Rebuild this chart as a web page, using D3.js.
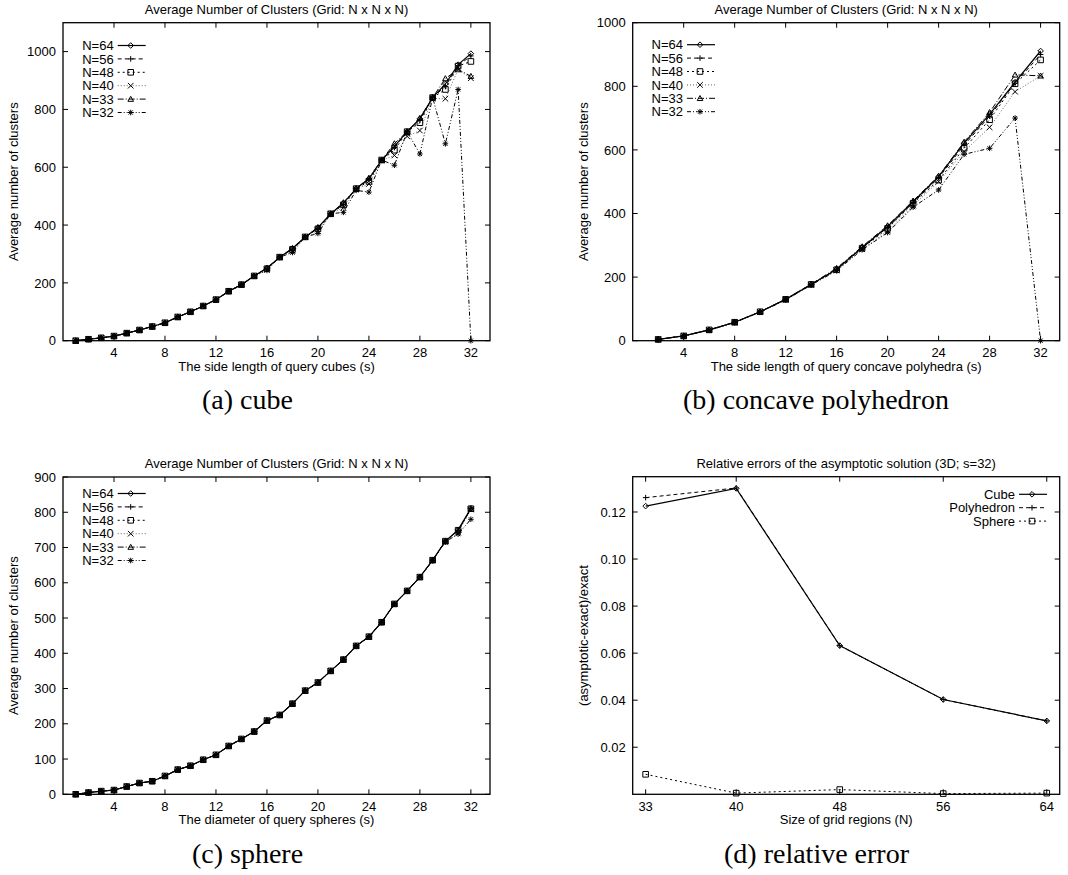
<!DOCTYPE html>
<html><head><meta charset="utf-8">
<script src="https://cdn.jsdelivr.net/npm/d3@7"></script>
<style>
body{margin:0;background:#fff;}
svg{display:block;}
text{font-family:"Liberation Sans",Arial,sans-serif;fill:#000;}
text.cap{font-family:"Liberation Serif","Times New Roman",serif;}
</style></head><body>
<svg id="chart" width="1068" height="875"></svg>
<script>
// ---------- data ----------
const seriesNames = ["N=64","N=56","N=48","N=40","N=33","N=32"];

// (a) cube
const cubeS = [1,2,3,4,5,6,7,8,9,10,11,12,13,14,15,16,17,18,19,20,21,22,23,24,25,26,27,28,29,30,31,32];
const cubeN64 = [0,5,10,16,26,37,49,62,82,100,120,142,171,194,224,251,289,319,359,391,439,476,526,560,625,672,723,768,841,888,955,993];
const cubeN56 = [0,5,10,16,26,37,49,62,82,100,120,142,171,194,224,250,289,317,359,388,439,472,526,557,625,668,723,763,841,880,952,985];
const cubeN48 = [0,5,10,16,26,37,49,62,82,100,120,142,171,194,224,249,289,316,359,387,439,470,526,551,625,659,723,754,841,869,950,966];
const cubeN40 = [0,5,10,16,26,37,49,62,82,100,120,142,171,193,224,245,289,310,359,378,439,460,525,542,624,641,707,727,838,837,938,908];
const cubeN33 = [0,5,10,16,26,37,49,62,82,100,120,142,171,194,224,252,289,320,359,392,439,478,526,563,625,682,723,770,841,907,938,915];
const cubeN32 = [0,5,10,16,26,37,49,62,82,100,120,142,171,192,224,243,289,305,359,371,439,444,520,514,625,607,723,646,841,681,869,0];

// (b) concave polyhedron
const polyS = [2,4,6,8,10,12,14,16,18,20,22,24,26,28,30,32];
const polyN64 = [4,15,34,58,91,130,177,225,293,359,437,516,621,712,813,911];
const polyN56 = [4,15,34,58,91,130,177,224,292,356,434,512,615,706,810,900];
const polyN48 = [4,15,34,58,91,130,177,223,291,353,432,505,605,695,808,883];
const polyN40 = [4,15,33,57,90,129,176,221,288,345,425,500,595,671,783,833];
const polyN33 = [4,15,34,58,91,131,178,228,296,362,440,518,625,718,836,833];
const polyN32 = [4,15,33,57,90,128,175,220,286,340,420,474,586,605,700,0];

// (c) sphere
const sphS = [1,2,3,4,5,6,7,8,9,10,11,12,13,14,15,16,17,18,19,20,21,22,23,24,25,26,27,28,29,30,31,32];
const sphN64 = [0,5,9,12,22,32,37,52,70,81,98,112,137,157,178,209,225,257,294,317,350,382,421,447,488,540,577,616,664,718,750,811];
const sphN56 = [0,5,9,12,22,32,37,52,70,81,98,112,137,157,178,209,225,257,294,317,350,382,421,447,488,540,577,616,664,718,749,810];
const sphN48 = [0,5,9,12,22,32,37,52,70,81,98,112,137,157,178,209,225,257,294,317,350,382,421,447,488,540,577,616,664,718,749,810];
const sphN40 = [0,5,9,12,22,32,37,52,70,81,98,112,137,157,178,209,225,257,294,317,350,382,421,447,488,540,577,616,664,716,742,808];
const sphN33 = [0,5,9,12,22,32,37,52,70,81,98,112,137,157,178,209,225,257,294,317,350,382,421,447,488,540,577,616,664,718,748,809];
const sphN32 = [0,5,9,12,22,32,37,52,70,81,98,112,137,157,178,209,225,257,294,317,350,382,421,447,488,540,577,616,663,716,738,780];

// (d) relative error
const gridN = [33,40,48,56,64];
const errNames = ["Cube","Polyhedron","Sphere"];
const errCube = [0.1225,0.1300,0.0632,0.0403,0.0312];
const errPoly = [0.1261,0.1302,0.0632,0.0403,0.0312];
const errSphere = [0.0085,0.0005,0.0020,0.0003,0.0005];

// tick labels
const sTicks = [4,8,12,16,20,24,28,32];
const yTicksA = [0,200,400,600,800,1000];
const yTicksB = [0,200,400,600,800,1000];
const yTicksC = [0,100,200,300,400,500,600,700,800,900];
const nTicks = [33,40,48,56,64];
const yTicksD = [0.02,0.04,0.06,0.08,0.10,0.12];

// ---------- styles ----------
const styles = [
  {dash:null, mark:"diamond", color:"#000", w:1.2},
  {dash:"4,3", mark:"plus", color:"#000", w:1},
  {dash:"2,3", mark:"square", color:"#000", w:1},
  {dash:"1,2", mark:"cross", color:"#666", w:1},
  {dash:"6,2,1,2", mark:"triangle", color:"#000", w:1},
  {dash:"4,2,1,2,1,2", mark:"star", color:"#000", w:1}
];

function markPath(type, x, y, r){
  switch(type){
    case "diamond": return `M${x},${y-r}L${x+r},${y}L${x},${y+r}L${x-r},${y}Z`;
    case "plus": return `M${x-r},${y}H${x+r}M${x},${y-r}V${y+r}`;
    case "square": return `M${x-r},${y-r}h${2*r}v${2*r}h${-2*r}Z`;
    case "cross": return `M${x-r},${y-r}L${x+r},${y+r}M${x-r},${y+r}L${x+r},${y-r}`;
    case "triangle": return `M${x},${y-r}L${x+r},${y+r*0.8}L${x-r},${y+r*0.8}Z`;
    case "star": return `M${x-r},${y}H${x+r}M${x},${y-r}V${y+r}M${x-r*0.75},${y-r*0.75}L${x+r*0.75},${y+r*0.75}M${x-r*0.75},${y+r*0.75}L${x+r*0.75},${y-r*0.75}`;
  }
}

const svg = d3.select("#chart");

function panel(cfg){
  const g = svg.append("g");
  const x = d3.scaleLinear().domain(cfg.xDomain).range([cfg.left, cfg.right]);
  const y = d3.scaleLinear().domain(cfg.yDomain).range([cfg.bottom, cfg.top]);
  const T = 5;
  // ticks
  cfg.xTicks.forEach(t=>{
    g.append("line").attr("x1",x(t)).attr("x2",x(t)).attr("y1",cfg.bottom).attr("y2",cfg.bottom-T).attr("stroke","#000");
    g.append("line").attr("x1",x(t)).attr("x2",x(t)).attr("y1",cfg.top).attr("y2",cfg.top+T).attr("stroke","#000");
    g.append("text").attr("x",x(t)).attr("y",cfg.bottom+16.5).attr("text-anchor","middle").attr("font-size",13).text(t);
  });
  cfg.yTicks.forEach(t=>{
    g.append("line").attr("x1",cfg.left).attr("x2",cfg.left+T).attr("y1",y(t)).attr("y2",y(t)).attr("stroke","#000");
    g.append("line").attr("x1",cfg.right).attr("x2",cfg.right-T).attr("y1",y(t)).attr("y2",y(t)).attr("stroke","#000");
    g.append("text").attr("x",cfg.left-7).attr("y",y(t)).attr("dy","0.36em").attr("text-anchor","end").attr("font-size",13).text(cfg.yFmt(t));
  });
  // border
  g.append("rect").attr("x",cfg.left).attr("y",cfg.top).attr("width",cfg.right-cfg.left).attr("height",cfg.bottom-cfg.top)
    .attr("fill","none").attr("stroke","#000").attr("stroke-width",1.3);
  // series (draw last first so first is on top)
  const line = d3.line().x(d=>x(d[0])).y(d=>y(d[1]));
  for(let i=cfg.series.length-1;i>=0;i--){
    const s = cfg.series[i], st = styles[cfg.styleIdx[i]];
    const pts = cfg.xs.map((v,k)=>[v,s[k]]);
    g.append("path").attr("d",line(pts)).attr("fill","none").attr("stroke",st.color)
      .attr("stroke-width",st.w).attr("stroke-dasharray",st.dash);
    pts.forEach(p=>{
      g.append("path").attr("d",markPath(st.mark,x(p[0]),y(p[1]),2.8)).attr("fill","none")
        .attr("stroke","#000").attr("stroke-width",1);
    });
  }
  // legend
  cfg.names.forEach((n,i)=>{
    const st = styles[cfg.styleIdx[i]];
    const ly = cfg.legY + i*13.4;
    g.append("text").attr("x",cfg.legX).attr("y",ly).attr("dy","0.36em").attr("text-anchor","end").attr("font-size",13).text(n);
    g.append("line").attr("x1",cfg.legX+4).attr("x2",cfg.legX+32).attr("y1",ly).attr("y2",ly)
      .attr("stroke",st.color).attr("stroke-width",st.w).attr("stroke-dasharray",st.dash);
    g.append("path").attr("d",markPath(st.mark,cfg.legX+17,ly,2.8)).attr("fill","none").attr("stroke","#000");
  });
  // title, labels, caption
  const cx = (cfg.left+cfg.right)/2;
  g.append("text").attr("x",cx).attr("y",cfg.top-9).attr("text-anchor","middle").attr("font-size",13).text(cfg.title);
  g.append("text").attr("x",cx).attr("y",cfg.bottom+30).attr("text-anchor","middle").attr("font-size",13).text(cfg.xLabel);
  const yc = (cfg.top+cfg.bottom)/2;
  g.append("text").attr("transform",`translate(${cfg.left-45},${yc}) rotate(-90)`).attr("text-anchor","middle").attr("font-size",13).text(cfg.yLabel);
  g.append("text").attr("class","cap").attr("x",cfg.capX).attr("y",cfg.capY).attr("text-anchor","middle").attr("font-size",28).text(cfg.caption);
}

const titleAvg = "Average Number of Clusters (Grid: N x N x N)";
const intFmt = d=>String(d);

panel({left:63,right:490,top:22.7,bottom:340.7,xDomain:[0,33.5],yDomain:[0,1100],
  xTicks:sTicks,yTicks:yTicksA,yFmt:intFmt,xs:cubeS,
  series:[cubeN64,cubeN56,cubeN48,cubeN40,cubeN33,cubeN32],styleIdx:[0,1,2,3,4,5],names:seriesNames,
  legX:113.7,legY:45.5,title:titleAvg,xLabel:"The side length of query cubes (s)",
  yLabel:"Average number of clusters",caption:"(a) cube",capX:247.5,capY:409});

panel({left:632.7,right:1059.7,top:22.7,bottom:340.7,xDomain:[0,33.5],yDomain:[0,1000],
  xTicks:sTicks,yTicks:yTicksB,yFmt:intFmt,xs:polyS,
  series:[polyN64,polyN56,polyN48,polyN40,polyN33,polyN32],styleIdx:[0,1,2,3,4,5],names:seriesNames,
  legX:683,legY:44.7,title:titleAvg,xLabel:"The side length of query concave polyhedra (s)",
  yLabel:"Average number of clusters",caption:"(b) concave polyhedron",capX:816,capY:409});

panel({left:63,right:490,top:477,bottom:794.3,xDomain:[0,33.5],yDomain:[0,900],
  xTicks:sTicks,yTicks:yTicksC,yFmt:intFmt,xs:sphS,
  series:[sphN64,sphN56,sphN48,sphN40,sphN33,sphN32],styleIdx:[0,1,2,3,4,5],names:seriesNames,
  legX:113.7,legY:493.5,title:titleAvg,xLabel:"The diameter of query spheres (s)",
  yLabel:"Average number of clusters",caption:"(c) sphere",capX:247.5,capY:863});

panel({left:632.7,right:1059.7,top:476.7,bottom:794.3,xDomain:[32,65],yDomain:[0,0.135],
  xTicks:nTicks,yTicks:yTicksD,yFmt:d3.format(".2f"),xs:gridN,
  series:[errCube,errPoly,errSphere],styleIdx:[0,1,2],names:errNames,
  legX:1015,legY:494.3,title:"Relative errors of the asymptotic solution (3D; s=32)",xLabel:"Size of grid regions (N)",
  yLabel:"(asymptotic-exact)/exact",caption:"(d) relative error",capX:816.5,capY:863});
</script>
</body></html>
